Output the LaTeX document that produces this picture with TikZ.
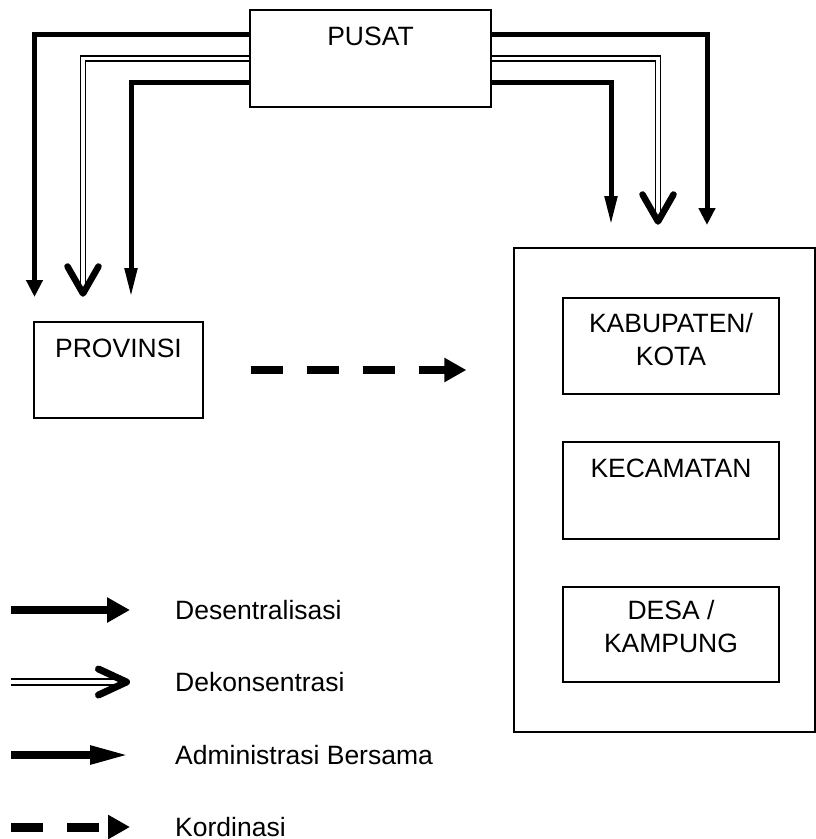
\documentclass[tikz,border=0pt]{standalone}
\usepackage{fontspec}
\setmainfont{Liberation Sans}
\usepackage{tikz}
\usetikzlibrary{arrows.meta,positioning}

\begin{document}
\begin{tikzpicture}[
  x=1pt, y=-1pt,
  box/.style={draw, line width=1.3pt, inner sep=0pt},
  lbl/.style={font=\fontsize{26.5}{33.5}\selectfont, align=center, inner sep=0pt},
  desen/.style={line width=5pt, -{Triangle[length=17pt, width=16pt]}},
  dekon/.style={double, line width=1.5pt, double distance=3.5pt},
  vhead/.style={line width=6.5pt, line cap=round, line join=round},
  admin/.style={line width=5pt, -{Triangle[length=29pt, width=12pt]}},
  kord/.style={line width=8pt, dash pattern=on 32pt off 24pt, -{Triangle[length=22pt, width=23pt]}}]
\useasboundingbox (0,0) rectangle (816,839);
% levels
\node[box, minimum width=241pt, minimum height=97pt] (pusat) at (370.5,58.5) {};
\node[lbl, anchor=base] (pusat-lbl) at ([yshift=-36pt]pusat.north) {PUSAT};
\node[box, minimum width=169pt, minimum height=96pt] (provinsi) at (118.5,370) {};
\node[lbl, anchor=base] (provinsi-lbl) at ([yshift=-36pt]provinsi.north) {PROVINSI};
\node[box, minimum width=301pt, minimum height=484pt] (daerah) at (664.5,490) {};
\node[box, minimum width=216pt, minimum height=96pt] (kab) at (671,346) {};
\node[lbl, anchor=base] (kab-lbl) at ([yshift=-68.5pt]kab.north) {KABUPATEN/\\KOTA};
\node[box, minimum width=216pt, minimum height=97pt] (kec) at (671,490.5) {};
\node[lbl, anchor=base] (kec-lbl) at ([yshift=-36pt]kec.north) {KECAMATAN};
\node[box, minimum width=216pt, minimum height=95pt] (desa) at (671,634.5) {};
\node[lbl, anchor=base] (desa-lbl) at ([yshift=-66.5pt]desa.north) {DESA /\\KAMPUNG};
% arrow tips
\coordinate (desen-l) at (34.5,297);
\coordinate (dekon-l) at (83,293.5);
\coordinate (admin-l) at (131,297);
\coordinate (desen-r) at (707,225);
\coordinate (dekon-r) at (658,221.5);
\coordinate (admin-r) at (611,225);
% pusat to provinsi
\draw[desen] ([yshift=24pt]pusat.west) -| (desen-l);
\draw[dekon, shorten >=3pt] (pusat.west) -| (dekon-l);
\draw[vhead] (dekon-l) ++(-15.5,-27) -- (dekon-l) -- ++(15.5,-27);
\draw[admin] ([yshift=-24pt]pusat.west) -| (admin-l);
% pusat to kabupaten/kota
\draw[desen] ([yshift=24pt]pusat.east) -| (desen-r);
\draw[dekon, shorten >=3pt] (pusat.east) -| (dekon-r);
\draw[vhead] (dekon-r) ++(-15.5,-27) -- (dekon-r) -- ++(15.5,-27);
\draw[admin] ([yshift=-24pt]pusat.east) -| (admin-r);
% coordination
\draw[kord, shorten <=47pt, shorten >=47pt] (provinsi.east) -- (provinsi.east -| daerah.west);
% legend
\coordinate (lg1a) at (11,610);
\coordinate (lg1b) at (130,610);
\coordinate (lg2a) at (11,682);
\coordinate (lg2b) at (126.5,682);
\coordinate (lg3a) at (11,755);
\coordinate (lg3b) at (130,755);
\coordinate (lg4a) at (11,827);
\coordinate (lg4b) at (130,827);
\draw[desen, line width=8pt, -{Triangle[length=23pt, width=24pt]}] (lg1a) -- (lg1b);
\draw[dekon, line width=2pt, double distance=3.5pt, shorten >=4pt] (lg2a) -- (lg2b);
\draw[vhead, line width=7pt] (lg2b) ++(-28,-13) -- (lg2b) -- ++(-28,13);
\draw[admin, line width=8pt, -{Triangle[length=40pt, width=17pt]}] (lg3a) -- (lg3b);
\draw[kord, line width=9pt] (lg4a) -- (lg4b);
\node[lbl, right=48.5pt of lg2b] (lg2) {Dekonsentrasi};
\node[lbl, right=45pt of lg1b] (lg1) {Desentralisasi};
\node[lbl, right=45pt of lg3b] (lg3) {Administrasi Bersama};
\node[lbl, right=45pt of lg4b] (lg4) {Kordinasi};
\end{tikzpicture}
\end{document}
